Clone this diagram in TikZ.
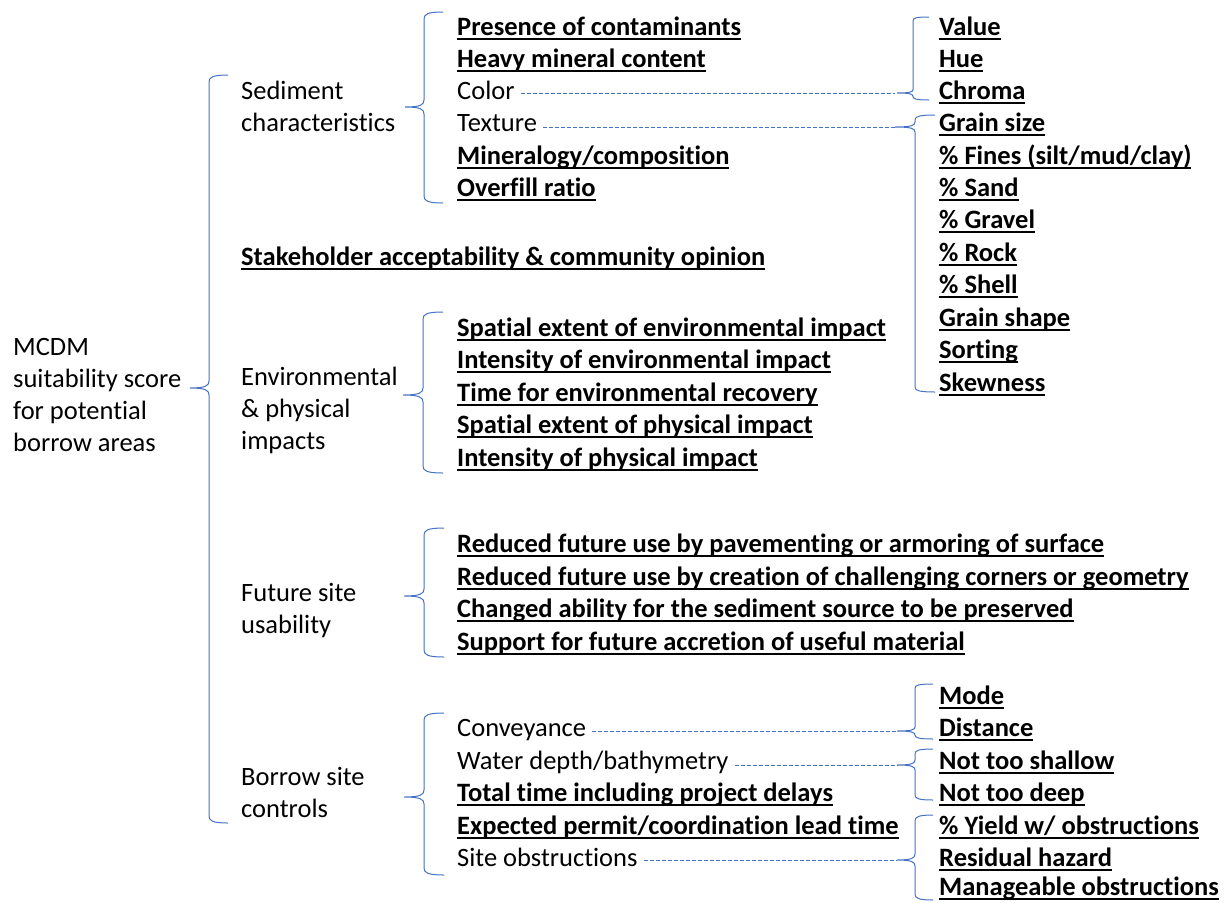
\documentclass[tikz,border=0pt]{standalone}
\usepackage{fontspec}
\setmainfont[Ligatures={NoCommon}]{Carlito}
\definecolor{brcblue}{RGB}{68,114,196}
\newcommand\myul[1]{\setbox0=\hbox{#1}\leavevmode\rlap{\copy0}\rule[-4.5pt]{\wd0}{1.8pt}}
\newcommand\B[1]{\myul{\bfseries #1}}
\newcommand\mybrace[6]{%
\draw[brc] (#1+#5,#2) .. controls (#1+0.2*#5,#2) and (#1,#2+0.3*#6) .. (#1,#2+#6) -- (#1,#3-#6) .. controls (#1,#3-0.3*#6) and (#1-0.2*#5,#3) .. (#1-#5,#3) .. controls (#1-0.2*#5,#3) and (#1,#3+0.3*#6) .. (#1,#3+#6) -- (#1,#4-#6) .. controls (#1,#4-0.3*#6) and (#1+0.2*#5,#4) .. (#1+#5,#4);}
\begin{document}
\begin{tikzpicture}[x=1pt,y=-1pt,
  txt/.style={anchor=base west,inner sep=0pt,font=\fontsize{26.5}{30}\selectfont},
  brc/.style={draw=brcblue,line width=1pt},
  dsh/.style={draw=brcblue,line width=0.9pt,dash pattern=on 4pt off 2pt}]
\useasboundingbox (0,0) rectangle (1228,902);
% root
\node[txt] (m1) at (13,355) {MCDM};
\node[txt] (m2) at (13,387) {suitability score};
\node[txt] (m3) at (13,419) {for potential};
\node[txt] (m4) at (13,451) {borrow areas};
\mybrace{209}{75}{388}{823}{19}{7}
% level 2
\node[txt] (s1) at (241,99) {Sediment};
\node[txt] (s2) at (241,131) {characteristics};
\node[txt] (sh) at (241,265) {\B{Stakeholder acceptability \& community opinion}};
\node[txt] (e1) at (241,385) {Environmental};
\node[txt] (e2) at (241,417) {\& physical};
\node[txt] (e3) at (241,449) {impacts};
\node[txt] (f1) at (241,601) {Future site};
\node[txt] (f2) at (241,633) {usability};
\node[txt] (b1) at (241,785) {Borrow site};
\node[txt] (b2) at (241,817) {controls};
% sediment
\mybrace{424}{12}{107}{203}{19}{7}
\node[txt] (sa) at (457,35) {\B{Presence of contaminants}};
\node[txt] (sb) at (457,67) {\B{Heavy mineral content}};
\node[txt] (sc) at (457,99) {Color};
\node[txt] (sd) at (457,131) {Texture};
\node[txt] (se) at (457,164) {\B{Mineralogy/composition}};
\node[txt] (sf) at (457,196) {\B{Overfill ratio}};
% color
\mybrace{913}{17}{93}{100}{16}{3.5}
\coordinate (ctip) at (895,93);
\draw[dsh] ([shift={(6,-6)}]sc.base east) -- (ctip);
\node[txt] (c1) at (939,35) {\B{Value}};
\node[txt] (c2) at (939,67) {\B{Hue}};
\node[txt] (c3) at (939,99) {\B{Chroma}};
% texture
\mybrace{915}{115}{127}{392}{20}{5}
\coordinate (ttip) at (895,127);
\draw[dsh] ([shift={(6,-4)}]sd.base east) -- (ttip);
\node[txt] (t1) at (939,131) {\B{Grain size}};
\node[txt] (t2) at (939,164) {\B{\% Fines (silt/mud/clay)}};
\node[txt] (t3) at (939,196) {\B{\% Sand}};
\node[txt] (t4) at (939,228) {\B{\% Gravel}};
\node[txt] (t5) at (939,261) {\B{\% Rock}};
\node[txt] (t6) at (939,293) {\B{\% Shell}};
\node[txt] (t7) at (939,326) {\B{Grain shape}};
\node[txt] (t8) at (939,358) {\B{Sorting}};
\node[txt] (t9) at (939,391) {\B{Skewness}};
% environmental
\mybrace{423}{312}{395}{473}{20}{7}
\node[txt] (ea) at (457,336) {\B{Spatial extent of environmental impact}};
\node[txt] (eb) at (457,368) {\B{Intensity of environmental impact}};
\node[txt] (ec) at (457,401) {\B{Time for environmental recovery}};
\node[txt] (ed) at (457,433) {\B{Spatial extent of physical impact}};
\node[txt] (ee) at (457,466) {\B{Intensity of physical impact}};
% future
\mybrace{424}{528}{596}{657}{20}{7}
\node[txt] (fa) at (457,552) {\B{Reduced future use by pavementing or armoring of surface}};
\node[txt] (fb) at (457,585) {\B{Reduced future use by creation of challenging corners or geometry}};
\node[txt] (fc) at (457,617) {\B{Changed ability for the sediment source to be preserved}};
\node[txt] (fd) at (457,650) {\B{Support for future accretion of useful material}};
% borrow
\mybrace{424}{713}{797}{875}{20}{7}
\node[txt] (ba) at (457,736) {Conveyance};
\node[txt] (bb) at (457,769) {Water depth/bathymetry};
\node[txt] (bc) at (457,801) {\B{Total time including project delays}};
\node[txt] (bd) at (457,834) {\B{Expected permit/coordination lead time}};
\node[txt] (be) at (457,866) {Site obstructions};
% conveyance
\mybrace{915}{684}{731}{739}{18}{4}
\coordinate (atip) at (897,731);
\draw[dsh] ([shift={(6,-5)}]ba.base east) -- (atip);
\node[txt] (a1) at (939,704) {\B{Mode}};
\node[txt] (a2) at (939,736) {\B{Distance}};
% water depth
\mybrace{915}{749}{765}{800}{18}{5}
\coordinate (wtip) at (897,765);
\draw[dsh] ([shift={(6,-4)}]bb.base east) -- (wtip);
\node[txt] (w1) at (939,769) {\B{Not too shallow}};
\node[txt] (w2) at (939,801) {\B{Not too deep}};
% obstructions
\mybrace{915}{815}{860}{900}{18}{6}
\coordinate (otip) at (897,860);
\draw[dsh] ([shift={(6,-6)}]be.base east) -- (otip);
\node[txt] (o1) at (939,834) {\B{\% Yield w/ obstructions}};
\node[txt] (o2) at (939,866) {\B{Residual hazard}};
\node[txt] (o3) at (939,895) {\B{Manageable obstructions}};
\end{tikzpicture}
\end{document}
